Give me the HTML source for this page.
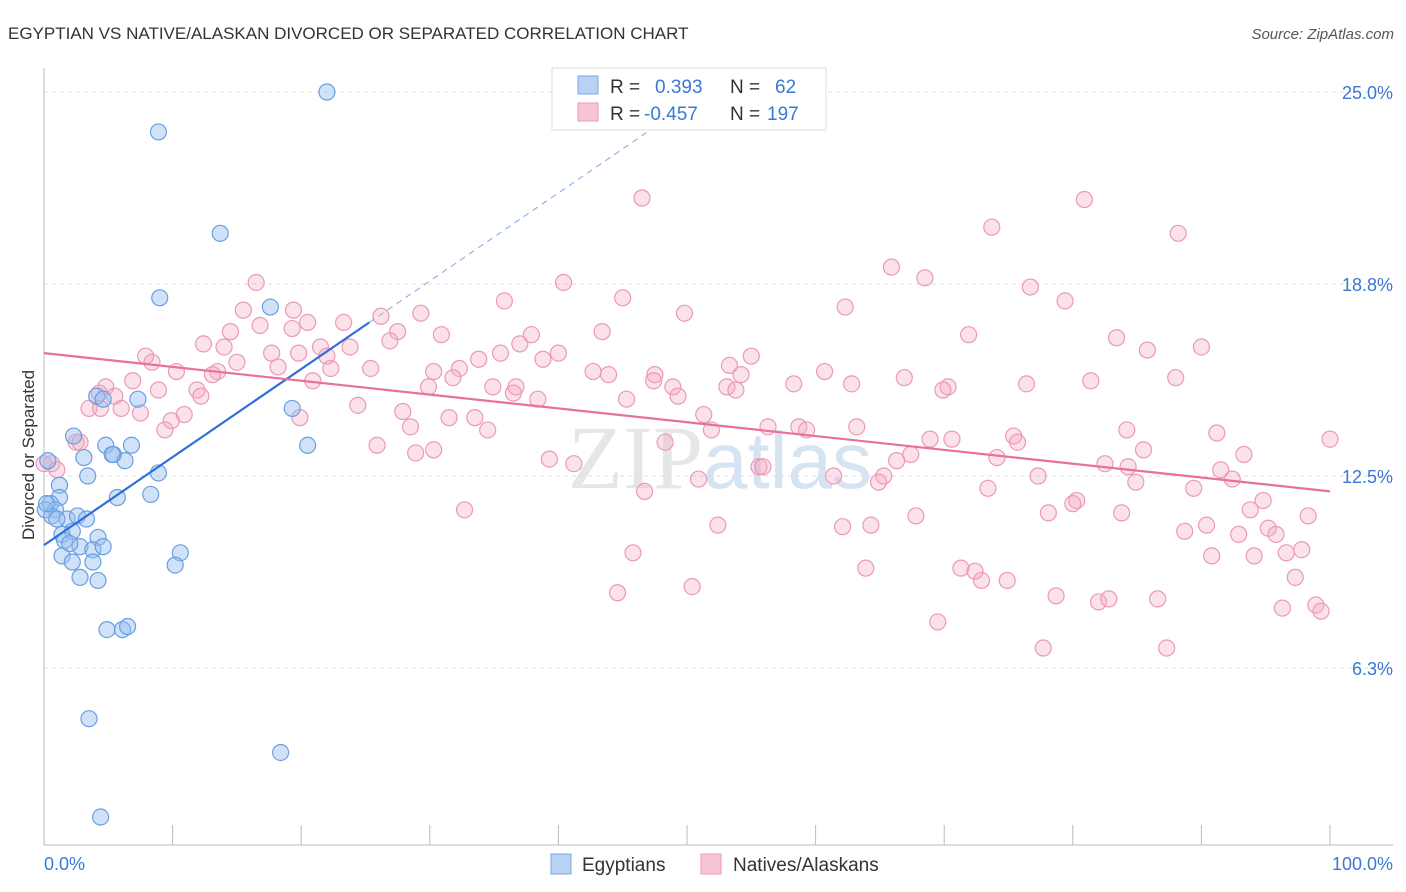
<!DOCTYPE html>
<html><head><meta charset="utf-8"><style>
body{margin:0;background:#fff;font-family:"Liberation Sans",sans-serif;}
svg{display:block}
</style></head><body>
<svg id="chart" width="1406" height="892" viewBox="0 0 1406 892">
<text x="8" y="39" font-size="17" fill="#333">EGYPTIAN VS NATIVE/ALASKAN DIVORCED OR SEPARATED CORRELATION CHART</text>
<text x="1394" y="39" font-size="15" fill="#555" font-style="italic" text-anchor="end">Source: ZipAtlas.com</text>
<text x="720" y="488" font-size="90" fill="#e6e6e6" text-anchor="middle" font-family="Liberation Serif">ZIP<tspan fill="#d6e3f3" font-family="Liberation Sans" font-size="80">atlas</tspan></text>
<g id="grid"></g>
<g id="axes"></g>
<g id="marks"></g>
<g id="trends"></g>
<text transform="translate(34,455) rotate(-90)" font-size="17" fill="#333" text-anchor="middle">Divorced or Separated</text>
<g>
<rect x="552" y="68" width="274" height="62" fill="#fff" stroke="#ddd"/>
<rect x="578" y="76" width="20" height="18" fill="#b8d2f4" stroke="#7aa7e4"/>
<rect x="578" y="103" width="20" height="18" fill="#f8c5d5" stroke="#ec9ab5"/>
<text x="610" y="93" font-size="19" fill="#333">R = <tspan fill="#3a78d6" x="655">0.393</tspan><tspan x="730">N = </tspan><tspan fill="#3a78d6" x="775">62</tspan></text>
<text x="610" y="120" font-size="19" fill="#333">R = <tspan fill="#3a78d6" x="644">-0.457</tspan><tspan x="730">N = </tspan><tspan fill="#3a78d6" x="767">197</tspan></text>
</g>
<g>
<rect x="551" y="854" width="20" height="20" fill="#b8d2f4" stroke="#7aa7e4"/>
<text x="582" y="871" font-size="19" fill="#333">Egyptians</text>
<rect x="701" y="854" width="20" height="20" fill="#f8c5d5" stroke="#ec9ab5"/>
<text x="733" y="871" font-size="19" fill="#333">Natives/Alaskans</text>
</g>
</svg>
<script>
const yTicks=[6.25,12.5,18.75,25];
const yTickLabels=["6.3%","12.5%","18.8%","25.0%"];
const xTickVals=[0,10,20,30,40,50,60,70,80,90,100];
const blueX=[22.0,8.9,13.7,9.0,17.6,19.3,20.5,4.1,4.6,7.3,2.3,4.8,6.8,5.4,6.3,3.1,8.9,3.4,0.3,1.2,5.7,8.3,1.2,0.5,0.9,1.8,2.6,3.3,2.2,1.4,4.2,1.6,2.8,3.8,4.6,1.4,2.2,3.8,10.6,10.2,2.8,4.2,4.9,6.1,6.5,3.5,18.4,4.4,0.1,0.6,1.0,0.2,2.0,5.3];
const blueY=[25.0,23.7,20.4,18.3,18.0,14.7,13.5,15.1,15.0,15.0,13.8,13.5,13.5,13.2,13.0,13.1,12.6,12.5,13.0,12.2,11.8,11.9,11.8,11.6,11.4,11.1,11.2,11.1,10.7,10.6,10.5,10.4,10.2,10.1,10.2,9.9,9.7,9.7,10.0,9.6,9.2,9.1,7.5,7.5,7.6,4.6,3.5,1.4,11.4,11.2,11.1,11.6,10.3,13.2];
const pinkX=[46.5,80.9,73.7,88.2,65.9,68.5,16.5,40.4,76.7,45.0,35.8,79.4,62.3,49.8,29.3,26.2,15.5,19.4,20.5,23.3,16.8,19.3,14.5,27.5,30.9,37.9,43.4,71.9,83.4,90.0,85.8,21.5,23.8,26.9,37.0,12.4,14.0,17.7,19.8,22.0,7.9,8.4,15.0,40.0,38.8,35.5,33.8,32.3,53.3,55.0,18.2,25.4,10.3,13.5,13.1,22.3,30.3,42.7,43.9,47.5,54.2,60.7,88.0,81.4,66.9,20.9,31.8,6.9,4.8,8.9,11.9,5.5,4.3,12.2,29.9,34.9,36.7,47.4,48.9,53.1,53.8,58.3,62.8,70.3,69.9,76.4,38.4,45.3,49.3,36.5,24.4,3.5,4.4,6.0,10.9,9.9,7.5,9.4,19.9,27.9,31.5,51.3,33.5,34.5,28.5,51.9,56.3,58.7,59.3,63.2,2.5,2.8,25.9,28.9,30.3,48.3,68.9,70.6,75.4,75.7,84.2,91.2,85.5,100,39.3,41.2,55.6,55.9,61.4,65.3,66.3,67.4,74.1,93.3,82.5,84.3,64.9,50.9,73.4,77.3,84.9,89.4,91.5,92.4,46.7,80.3,80.0,94.8,32.7,67.8,62.1,64.3,78.1,83.8,93.8,98.3,52.4,90.4,88.7,95.2,95.8,92.9,97.8,96.6,45.8,90.8,94.1,63.9,71.3,72.4,72.9,74.9,97.3,44.6,50.4,78.7,82.0,82.8,86.6,96.3,98.9,99.3,69.5,77.7,87.3,0.0,0.6,1.0];
const pinkY=[21.55,21.5,20.6,20.4,19.3,18.95,18.8,18.8,18.65,18.3,18.2,18.2,18.0,17.8,17.8,17.7,17.9,17.9,17.5,17.5,17.4,17.3,17.2,17.2,17.1,17.1,17.2,17.1,17.0,16.7,16.6,16.7,16.7,16.9,16.8,16.8,16.7,16.5,16.5,16.4,16.4,16.2,16.2,16.5,16.3,16.5,16.3,16.0,16.1,16.4,16.05,16.0,15.9,15.9,15.8,16.0,15.9,15.9,15.8,15.8,15.8,15.9,15.7,15.6,15.7,15.6,15.7,15.6,15.4,15.3,15.3,15.1,15.2,15.1,15.4,15.4,15.4,15.6,15.4,15.4,15.3,15.5,15.5,15.4,15.3,15.5,15.0,15.0,15.1,15.2,14.8,14.7,14.7,14.7,14.5,14.3,14.55,14.0,14.4,14.6,14.4,14.5,14.4,14.0,14.1,14.0,14.1,14.1,14.0,14.1,13.6,13.6,13.5,13.25,13.35,13.6,13.7,13.7,13.8,13.6,14.0,13.9,13.35,13.7,13.05,12.9,12.8,12.8,12.5,12.5,13.0,13.2,13.1,13.2,12.9,12.8,12.3,12.4,12.1,12.5,12.3,12.1,12.7,12.4,12.0,11.7,11.6,11.7,11.4,11.2,10.85,10.9,11.3,11.3,11.4,11.2,10.9,10.9,10.7,10.8,10.6,10.6,10.1,10.0,10.0,9.9,9.9,9.5,9.5,9.4,9.1,9.1,9.2,8.7,8.9,8.6,8.4,8.5,8.5,8.2,8.3,8.1,7.75,6.9,6.9,12.9,12.9,12.7];
const blueTrend=[0,10.25,25.3,17.5,47.9,23.98];
const pinkTrend=[0,16.5,100,12.0];

const NS="http://www.w3.org/2000/svg";
const X0=44,X1=1330,YTOP=92,PER=30.72;
const xs=v=>X0+(X1-X0)*v/100;
const ys=v=>YTOP+(25-v)*PER;
function mk(tag,attrs,parent){const e=document.createElementNS(NS,tag);for(const k in attrs)e.setAttribute(k,attrs[k]);parent.appendChild(e);return e;}
const grid=document.getElementById('grid'),axes=document.getElementById('axes'),marks=document.getElementById('marks'),trends=document.getElementById('trends');
yTicks.forEach((t,i)=>{
 const l=mk('line',{x1:44,x2:1393,y1:ys(t),y2:ys(t),stroke:'#ddd','stroke-dasharray':'4 4'},grid);
 
 
 const tx=mk('text',{x:1393,y:ys(t)+7,'font-size':18,fill:'#3a78d6','text-anchor':'end'},axes);
 tx.textContent=yTickLabels[i];
 
 
});
const ya=mk('line',{x1:44,x2:44,y1:68,y2:845,stroke:'#bbb'},axes);


const xa=mk('line',{x1:44,x2:1393,y1:845,y2:845,stroke:'#bbb'},axes);


xTickVals.forEach(v=>{
 const t=mk('line',{x1:xs(v),x2:xs(v),y1:825,y2:845,stroke:'#bbb'},axes);
 
 
});
const xl0=mk('text',{x:44,y:870,'font-size':18,fill:'#3a78d6'},axes);xl0.textContent='0.0%';


const xl1=mk('text',{x:1393,y:870,'font-size':18,fill:'#3a78d6','text-anchor':'end'},axes);xl1.textContent='100.0%';


pinkX.forEach((x,i)=>{
 const c=mk('circle',{cx:xs(x),cy:ys(pinkY[i]),r:8,fill:'rgba(244,170,196,0.35)',stroke:'#eb99b6','stroke-width':1.2},marks);
 
 
});
blueX.forEach((x,i)=>{
 const c=mk('circle',{cx:xs(x),cy:ys(blueY[i]),r:8,fill:'rgba(150,190,240,0.45)',stroke:'#6b9ee2','stroke-width':1.2},marks);
 
 
});
const bt=mk('line',{x1:xs(blueTrend[0]),y1:ys(blueTrend[1]),x2:xs(blueTrend[2]),y2:ys(blueTrend[3]),stroke:'#2f6fd8','stroke-width':2.2},trends);


const bd=mk('line',{x1:xs(blueTrend[2]),y1:ys(blueTrend[3]),x2:xs(blueTrend[4]),y2:ys(blueTrend[5]),stroke:'#8fb3e8','stroke-width':1.2,'stroke-dasharray':'6 5'},trends);


const pt=mk('line',{x1:xs(pinkTrend[0]),y1:ys(pinkTrend[1]),x2:xs(pinkTrend[2]),y2:ys(pinkTrend[3]),stroke:'#e8719a','stroke-width':2.2},trends);


</script>
</body></html>
